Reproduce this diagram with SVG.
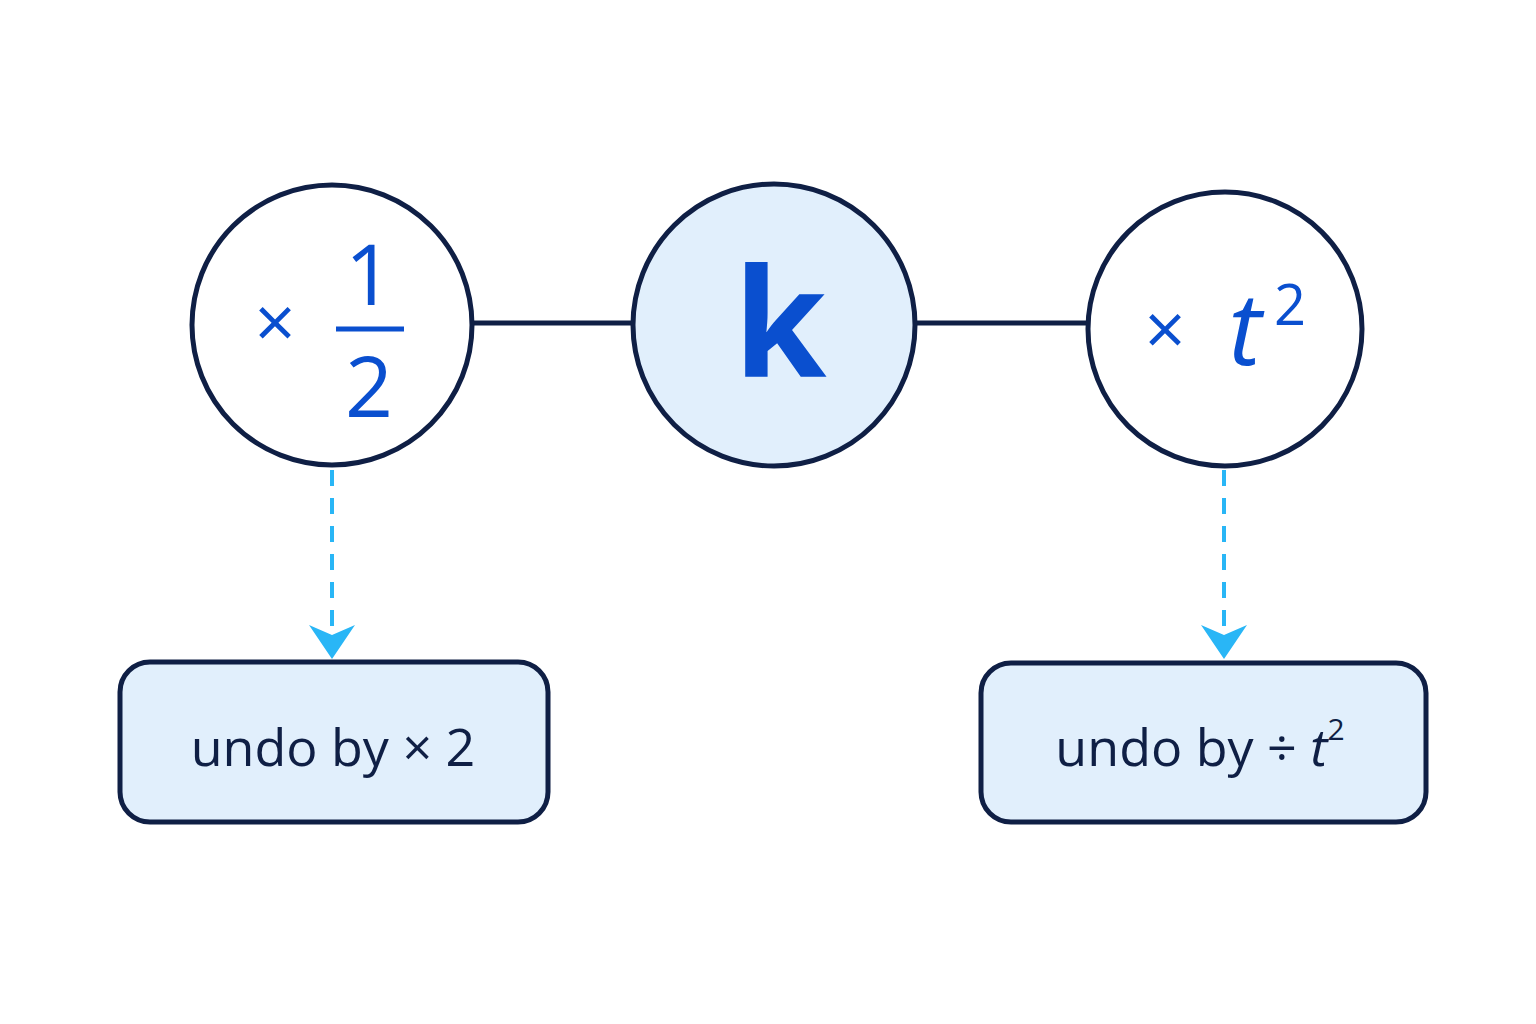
<svg xmlns="http://www.w3.org/2000/svg" width="1536" height="1024" viewBox="0 0 1536 1024">
<style>
.n{stroke:#0f1f45;stroke-width:5}
.b{fill:#0a4fcf;font-family:"Open Sans","DejaVu Sans",sans-serif}
.l{fill:#0f1f45;font-family:"Open Sans","DejaVu Sans",sans-serif;font-size:52px}
.d{stroke:#29b6f6;stroke-width:4;stroke-dasharray:16 12;fill:none}
</style>
<defs><marker id="a" markerWidth="12" markerHeight="10" refX="6" refY="9" orient="auto" markerUnits="userSpaceOnUse" viewBox="0 0 12 10"><path d="M0,0 L6,3 L12,0 L6,10 Z" fill="#29b6f6"/></marker>
<marker id="ah" viewBox="0 0 46 34" refX="23" refY="33" markerWidth="46" markerHeight="34" markerUnits="userSpaceOnUse" orient="0"><path d="M0,0 L23,10 L46,0 L23,34 Z" fill="#29b6f6"/></marker></defs>
<g id="connectors">
<line x1="470" y1="323" x2="632" y2="323" class="n"/>
<line x1="914" y1="323" x2="1088" y2="323" class="n"/>
<line x1="332" y1="470" x2="332" y2="658" class="d" marker-end="url(#ah)"/>
<line x1="1224" y1="470" x2="1224" y2="658" class="d" marker-end="url(#ah)"/>
</g>
<g id="half"><circle cx="332" cy="325" r="140" fill="#fff" class="n"/>
<text x="275" y="348" class="b" font-size="72" text-anchor="middle">×</text>
<text x="369" y="305" class="b" font-size="84" text-anchor="middle">1</text>
<line x1="336" y1="329" x2="404" y2="329" stroke="#0a4fcf" stroke-width="5"/>
<text x="369" y="417" class="b" font-size="84" text-anchor="middle">2</text></g>
<g id="k"><circle cx="774" cy="325" r="141" fill="#e1effc" class="n"/>
<text x="780" y="377" class="b" font-size="150" font-weight="bold" text-anchor="middle">k</text></g>
<g id="t2"><circle cx="1225" cy="329" r="137" fill="#fff" class="n"/>
<text x="1165" y="355" class="b" font-size="72" text-anchor="middle">×</text>
<text x="1245" y="365" class="b" font-size="100" font-style="italic" text-anchor="middle">t</text>
<text x="1290" y="325" class="b" font-size="56" text-anchor="middle">2</text></g>
<g id="undo1"><rect x="120" y="662" width="428" height="160" rx="30" fill="#e1effc" class="n"/>
<text x="333" y="766" class="l" text-anchor="middle">undo by  × 2</text></g>
<g id="undo2"><rect x="981" y="663" width="445" height="159" rx="30" fill="#e1effc" class="n"/>
<text x="1200" y="766" class="l" text-anchor="middle">undo by ÷ <tspan font-style="italic">t</tspan><tspan font-size="30" dy="-26">2</tspan></text></g>
</svg>
